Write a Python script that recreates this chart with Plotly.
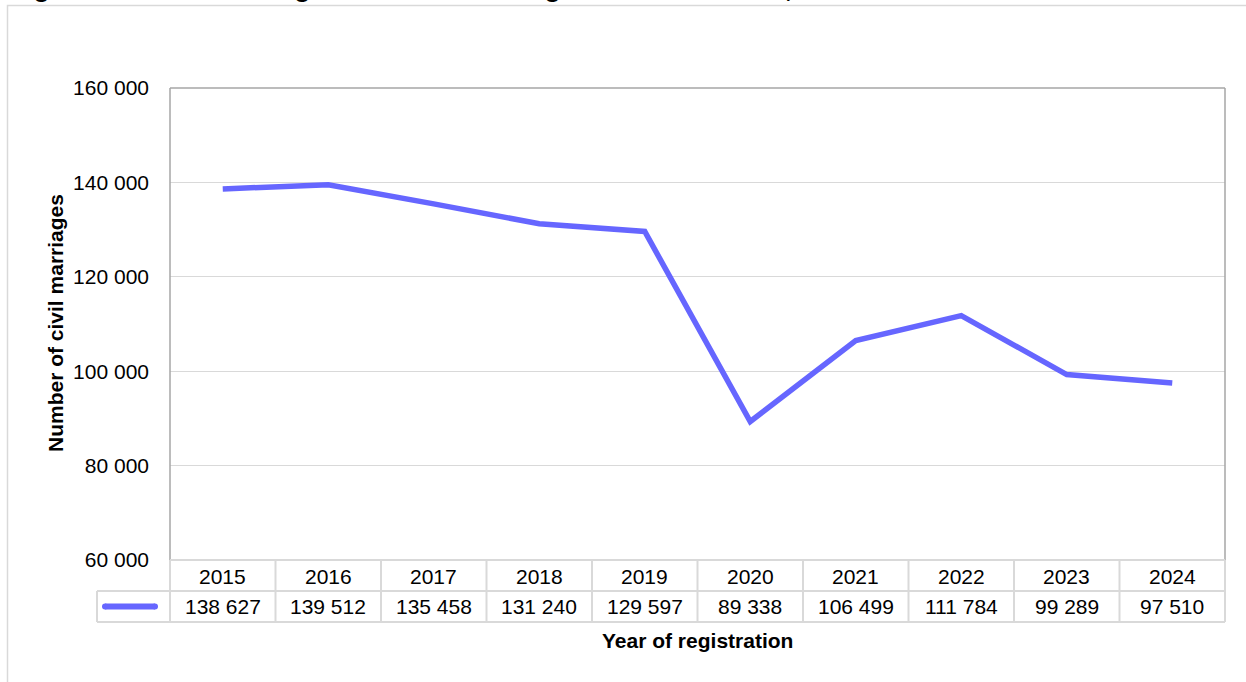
import plotly.graph_objects as go

# ---- data ----
years = ["2015", "2016", "2017", "2018", "2019", "2020", "2021", "2022", "2023", "2024"]
marriages = [138627, 139512, 135458, 131240, 129597, 89338, 106499, 111784, 99289, 97510]
y_tickvals = [60000, 80000, 100000, 120000, 140000, 160000]
y_ticktext = ["60 000", "80 000", "100 000", "120 000", "140 000", "160 000"]
title_text = "Figure 1: Number of registered civil marriages in South Africa, 2015–2024"
x_title = "Year of registration"
y_title = "Number of civil marriages"

# ---- layout geometry (pixels) ----
W, H = 1246, 682
L, R, T, B = 170, 1225, 88, 560
FONT = "Arial, Liberation Sans, sans-serif"
FS = 21
LINE_COLOR = "#6666ff"
GRID = "#d9d9d9"
BORDER = "#a6a6a6"


def px(p):
    return (p - L) / (R - L)


def py(p):
    return (B - p) / (B - T)


fig = go.Figure()
fig.add_trace(go.Scatter(
    x=list(range(len(years))), y=marriages, mode="lines",
    line=dict(color=LINE_COLOR, width=5.5), hoverinfo="x+y", showlegend=False,
))

shapes = []
annotations = []

# outer frame
shapes.append(dict(type="rect", xref="paper", yref="paper",
                   x0=px(7.5), x1=px(1270), y0=py(5.5), y1=py(720),
                   line=dict(color=GRID, width=1.5), fillcolor="rgba(0,0,0,0)", layer="below"))

# plot-area border (top, left, right)
for (x0, y0, x1, y1) in [(L, T, R, T), (L, T, L, B), (R, T, R, B)]:
    shapes.append(dict(type="line", xref="paper", yref="paper",
                       x0=px(x0), x1=px(x1), y0=py(y0), y1=py(y1),
                       line=dict(color=BORDER, width=1.5), layer="above"))

# data table
row1_top, row1_bot, row2_bot = B, 591, 622
leg_left = 97
n = len(years)
colw = (R - L) / n
tcol = GRID
tw = 2
shapes.append(dict(type="line", xref="paper", yref="paper", x0=px(L), x1=px(R),
                   y0=py(row1_top), y1=py(row1_top), line=dict(color=tcol, width=tw)))
shapes.append(dict(type="line", xref="paper", yref="paper", x0=px(leg_left), x1=px(R),
                   y0=py(row1_bot), y1=py(row1_bot), line=dict(color=tcol, width=tw)))
shapes.append(dict(type="line", xref="paper", yref="paper", x0=px(leg_left), x1=px(R),
                   y0=py(row2_bot), y1=py(row2_bot), line=dict(color=tcol, width=tw)))
shapes.append(dict(type="line", xref="paper", yref="paper", x0=px(leg_left), x1=px(leg_left),
                   y0=py(row1_bot), y1=py(row2_bot), line=dict(color=tcol, width=tw)))
for i in range(n + 1):
    xv = L + i * colw
    shapes.append(dict(type="line", xref="paper", yref="paper", x0=px(xv), x1=px(xv),
                       y0=py(row1_top), y1=py(row2_bot), line=dict(color=tcol, width=tw)))

# legend key in table
ky = (row1_bot + row2_bot) / 2
kx0, kx1, kr = 105, 155, 3
shapes.append(dict(type="rect", xref="paper", yref="paper",
                   x0=px(kx0), x1=px(kx1), y0=py(ky - kr), y1=py(ky + kr),
                   fillcolor=LINE_COLOR, line=dict(width=0)))
for cx in (kx0, kx1):
    shapes.append(dict(type="circle", xref="paper", yref="paper",
                       x0=px(cx - kr), x1=px(cx + kr), y0=py(ky - kr), y1=py(ky + kr),
                       fillcolor=LINE_COLOR, line=dict(width=0)))

for i, (yr, v) in enumerate(zip(years, marriages)):
    annotations.append(dict(x=i, xref="x", y=py((row1_top + row1_bot) / 2 + 1), yref="paper",
                            text=yr, showarrow=False, xanchor="center", yanchor="middle",
                            font=dict(family=FONT, size=FS, color="black")))
    annotations.append(dict(x=i, xref="x", y=py((row1_bot + row2_bot) / 2), yref="paper",
                            text=f"{v:,}".replace(",", " "), showarrow=False,
                            xanchor="center", yanchor="middle",
                            font=dict(family=FONT, size=FS, color="black")))

# axis titles
annotations.append(dict(x=px(697), y=py(640), xref="paper", yref="paper", text=f"<b>{x_title}</b>",
                        showarrow=False, xanchor="center", yanchor="middle",
                        font=dict(family=FONT, size=FS, color="black")))
annotations.append(dict(x=px(55), y=py(323), xref="paper", yref="paper", text=f"<b>{y_title}</b>",
                        showarrow=False, xanchor="center", yanchor="middle", textangle=-90,
                        font=dict(family=FONT, size=FS, color="black")))

# title, clipped at the very top as in the reference
annotations.append(dict(x=px(8), y=py(5), xref="paper", yref="paper", text=f"<b>{title_text}</b>",
                        showarrow=False, xanchor="left", yanchor="bottom",
                        font=dict(family=FONT, size=26.5, color="black")))

fig.update_layout(
    width=W, height=H,
    margin=dict(l=L, r=W - R, t=T, b=H - B, pad=0),
    paper_bgcolor="white", plot_bgcolor="white",
    showlegend=False,
    shapes=shapes, annotations=annotations,
    font=dict(family=FONT, size=FS, color="black"),
    xaxis=dict(range=[-0.5, n - 0.5], showgrid=False, zeroline=False, showline=False,
               showticklabels=False, ticks="", fixedrange=True),
    yaxis=dict(range=[60000, 160000], tickvals=y_tickvals, ticktext=y_ticktext,
               showgrid=True, gridcolor=GRID, gridwidth=1, zeroline=False, showline=False,
               ticks="", ticklabelstandoff=20, tickfont=dict(family=FONT, size=FS, color="black"),
               fixedrange=True),
)

fig.write_html("out.html", config={"displayModeBar": False},
               post_script="document.body.style.margin='0';document.body.style.overflow='hidden';")
